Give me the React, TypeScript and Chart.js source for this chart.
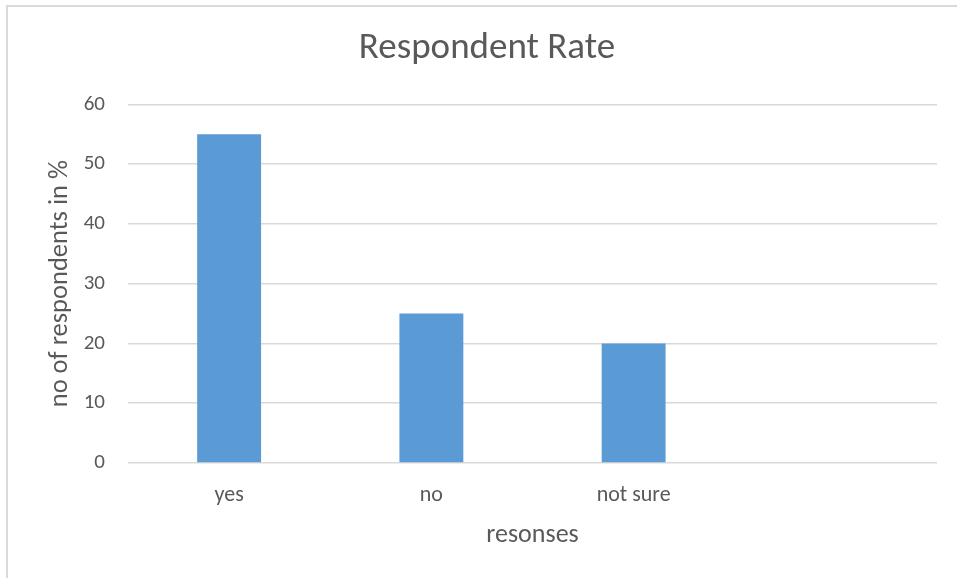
import React, { useEffect, useRef } from "react";
import { Chart, registerables } from "chart.js";

Chart.register(...registerables);

const categories = ["yes", "no", "not sure", ""];
const respondents = [55, 25, 20, null];
const yTicks = [0, 10, 20, 30, 40, 50, 60];

const FONT = "Carlito, Lato, 'Open Sans', sans-serif";
const TEXT = "#595959";
const GRID = "#d9d9d9";
const BAR = "#5b9bd5";

export default function App() {
  const ref = useRef<HTMLCanvasElement | null>(null);

  useEffect(() => {
    if (!ref.current) return;
    const chart = new Chart(ref.current, {
      type: "bar",
      data: {
        labels: categories,
        datasets: [
          {
            label: "respondents",
            data: respondents as any,
            backgroundColor: BAR,
            borderWidth: 0,
            barPercentage: 0.316,
            categoryPercentage: 1,
          },
        ],
      },
      options: {
        animation: false,
        responsive: false,
        maintainAspectRatio: false,
        layout: { padding: { left: 37, right: 20, top: 0, bottom: 0 } },
        plugins: {
          legend: { display: false },
          tooltip: { enabled: false },
          title: {
            display: true,
            text: "Respondent Rate",
            color: TEXT,
            font: { family: FONT, size: 37, weight: "normal" },
            padding: { top: 27, bottom: 33 },
          },
        },
        scales: {
          x: {
            grid: { display: false, drawTicks: false },
            border: { display: false },
            ticks: {
              color: TEXT,
              font: { family: FONT, size: 22 },
              padding: 19,
              maxRotation: 0,
            },
            title: {
              display: true,
              text: "resonses",
              color: TEXT,
              font: { family: FONT, size: 26 },
              padding: { top: 0, bottom: 27 },
            },
            afterFit: (axis: any) => {
              axis.height = 115;
            },
          },
          y: {
            min: 0,
            max: 60,
            afterBuildTicks: (axis: any) => {
              axis.ticks = yTicks.map((v) => ({ value: v }));
            },
            grid: { color: GRID, lineWidth: 1.5, drawTicks: false },
            border: { display: false },
            ticks: {
              color: TEXT,
              font: { family: FONT, size: 21 },
              padding: 23,
            },
            title: {
              display: true,
              text: "no of respondents in %",
              color: TEXT,
              font: { family: FONT, size: 26.5 },
              padding: { top: 7, bottom: 0 },
            },
            afterFit: (axis: any) => {
              axis.width = 91;
            },
          },
        },
      },
    });
    return () => chart.destroy();
  }, []);

  return (
    <div
      style={{
        position: "fixed",
        left: 0,
        top: 0,
        width: 957,
        height: 578,
        overflow: "hidden",
        background: "#fff",
      }}
    >
      <div
        style={{
          position: "absolute",
          left: 6,
          top: 5,
          width: 1200,
          height: 1200,
          borderLeft: `2px solid ${GRID}`,
          borderTop: `2px solid ${GRID}`,
        }}
      />
      <canvas
        ref={ref}
        width={957}
        height={578}
        style={{ position: "absolute", left: 0, top: 0, width: 957, height: 578 }}
      />
    </div>
  );
}
